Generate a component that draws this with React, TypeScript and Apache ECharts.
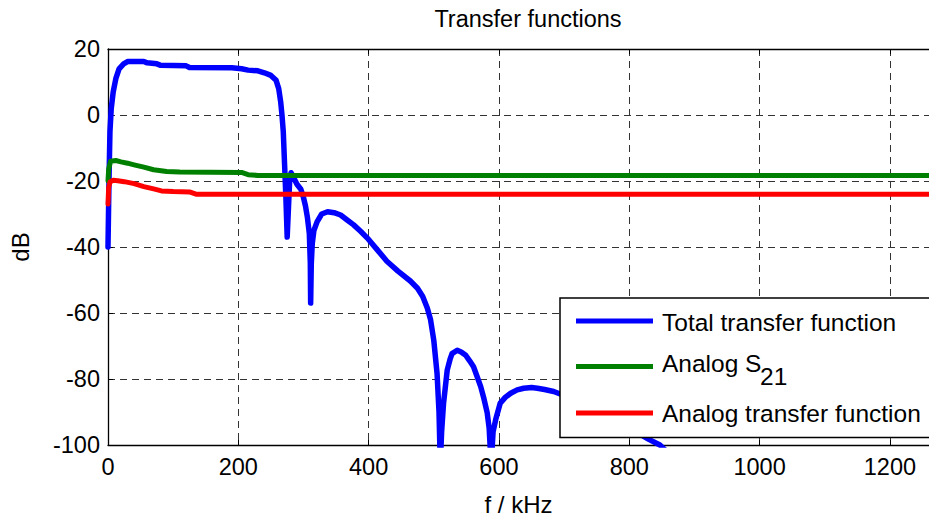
import React, { useEffect, useRef } from "react";
import * as echarts from "echarts";

// ---- data (f in kHz, level in dB) ----
const totalTransfer: [number, number][] = [
  [0, -40], [1.5, -20], [3, -5], [5, 2], [8, 7], [12, 11], [17, 14], [24, 15.5], [30, 16.2],
  [55, 16.2], [60, 15.8], [75, 15.5], [80, 15.1], [120, 14.9], [125, 14.4], [190, 14.3],
  [205, 14], [215, 13.6], [230, 13.4], [240, 12.8], [250, 12], [258, 10.5], [262, 8], [265, 4],
  [267, 0], [269, -5], [271, -15], [273, -25], [275, -37], [277, -28], [279, -19], [281, -17.5],
  [285, -19], [290, -21], [296, -22.5], [300, -25], [303, -27.5], [306, -31], [309, -36],
  [310.5, -45], [311, -57], [312, -45], [313.5, -39], [316, -35], [321, -32.3], [328, -30],
  [337, -29.3], [347, -29.6], [357, -30.3], [367, -31.8], [377, -33.3], [388, -35.3],
  [398, -37.3], [413, -40.8], [428, -44.3], [445, -47.3], [464, -50.3], [475, -52.5],
  [483, -55], [490, -58.5], [495, -62], [500, -68.3], [505, -78.3], [508, -90], [510, -106],
  [512, -96], [515, -87.3], [520.6, -77.3], [525, -74], [528, -72.3], [536, -71.3],
  [542, -71.8], [549, -72.8], [555, -74.5], [561, -76.3], [566, -79], [572, -82.3], [577, -86],
  [582, -90.3], [585, -95], [588, -106], [591, -96], [595, -92.3], [602, -87.3], [610, -85.5],
  [618, -84.3], [628, -83.3], [638, -82.8], [650, -82.6], [659, -82.8], [670, -83.2],
  [684, -83.8], [700, -85], [720, -86.5], [740, -88.5], [760, -90.5], [780, -92.5], [800, -95],
  [817, -96.8], [830, -98.3], [847, -100], [855, -101.5],
];

const analogS21: [number, number][] = [
  [0, -20], [1, -16.5], [4, -14], [12, -13.8], [20, -14.2], [30, -14.6], [40, -15.1],
  [55, -15.8], [70, -16.6], [90, -17.1], [110, -17.3], [205, -17.4], [215, -18.1],
  [230, -18.3], [1260, -18.3],
];

const analogTransfer: [number, number][] = [
  [0, -27], [1, -22], [3, -20.3], [8, -19.8], [15, -19.9], [25, -20.2], [40, -20.8],
  [55, -21.7], [70, -22.4], [82, -23], [100, -23.2], [125, -23.3], [135, -24], [1260, -24],
];

const seriesNames = ["Total transfer function", "Analog S", "Analog transfer function"];
const subscript = "21";
const seriesColors = ["#0000ff", "#008000", "#ff0000"];

const FONT = "'Liberation Sans', Arial, Helvetica, sans-serif";

export default function App() {
  const ref = useRef<HTMLDivElement>(null);

  useEffect(() => {
    if (!ref.current) return;
    const chart = echarts.init(ref.current, undefined, { renderer: "svg" });
    const grid = { left: 107, right: 0, top: 49, bottom: 72 };
    const gridLine = { show: true, lineStyle: { color: "#333", width: 1, type: [7, 5] as any } };
    const legendRows = [321, 366.5, 413];
    const LZ = 100;

    chart.setOption({
      animation: false,
      backgroundColor: "#ffffff",
      textStyle: { fontFamily: FONT },
      title: {
        text: "Transfer functions",
        left: 523,
        top: 2,
        textAlign: "center",
        textStyle: { fontFamily: FONT, fontSize: 23.5, fontWeight: "normal", color: "#000" },
      },
      grid: { ...grid, containLabel: false },
      xAxis: [
        {
          type: "value",
          min: 0,
          max: 1260,
          interval: 200,
          position: "bottom",
          name: "f / kHz",
          nameLocation: "middle",
          nameGap: 47,
          nameTextStyle: { fontFamily: FONT, fontSize: 24, color: "#000" },
          axisLine: { show: true, onZero: false, lineStyle: { color: "#000", width: 1.3 } },
          axisTick: { show: true, inside: true, length: 5, lineStyle: { color: "#000" } },
          axisLabel: {
            fontFamily: FONT,
            fontSize: 23.5,
            color: "#000",
            margin: 10,
            showMaxLabel: false,
            formatter: (v: number) => String(v),
          },
          splitLine: gridLine,
        },
        {
          type: "value",
          min: 0,
          max: 1260,
          interval: 200,
          position: "top",
          axisLine: { show: true, onZero: false, lineStyle: { color: "#000", width: 1.3 } },
          axisTick: { show: true, inside: true, length: 5, lineStyle: { color: "#000" } },
          axisLabel: { show: false },
          splitLine: { show: false },
        },
      ],
      yAxis: {
        type: "value",
        min: -100,
        max: 20,
        interval: 20,
        name: "dB",
        nameLocation: "middle",
        nameGap: 76,
        nameTextStyle: { fontFamily: FONT, fontSize: 24, color: "#000" },
        axisLine: { show: true, onZero: false, lineStyle: { color: "#000", width: 1.3 } },
        axisTick: { show: true, inside: true, length: 5, lineStyle: { color: "#000" } },
        axisLabel: { fontFamily: FONT, fontSize: 23.5, color: "#000", margin: 8 },
        splitLine: gridLine,
      },
      series: [
        {
          name: seriesNames[0],
          type: "line",
          data: totalTransfer,
          showSymbol: false,
          clip: true,
          lineStyle: { color: seriesColors[0], width: 5.5, cap: "round", join: "round" },
          itemStyle: { color: seriesColors[0] },
        },
        {
          name: seriesNames[1] + subscript,
          type: "line",
          data: analogS21,
          showSymbol: false,
          clip: true,
          lineStyle: { color: seriesColors[1], width: 5, cap: "round", join: "round" },
          itemStyle: { color: seriesColors[1] },
        },
        {
          name: seriesNames[2],
          type: "line",
          data: analogTransfer,
          showSymbol: false,
          clip: true,
          lineStyle: { color: seriesColors[2], width: 5, cap: "round", join: "round" },
          itemStyle: { color: seriesColors[2] },
        },
      ],
      graphic: [
        {
          type: "rect",
          z: LZ,
          shape: { x: 560, y: 298, width: 420, height: 139.5 },
          style: { fill: "#fff", stroke: "#000", lineWidth: 1.5 },
        },
        ...legendRows.map((y, i) => ({
          type: "line",
          z: LZ + 1,
          shape: { x1: 576, y1: y, x2: 653, y2: y },
          style: { stroke: seriesColors[i], lineWidth: 5 },
        })),
        {
          type: "text",
          z: LZ + 1,
          x: 662,
          y: legendRows[0] + 1.5,
          style: { text: seriesNames[0], font: `24.5px ${FONT}`, fill: "#000", verticalAlign: "middle" },
        },
        {
          type: "text",
          z: LZ + 1,
          x: 662,
          y: legendRows[1] - 3,
          style: { text: seriesNames[1], font: `24.5px ${FONT}`, fill: "#000", verticalAlign: "middle" },
        },
        {
          type: "text",
          z: LZ + 1,
          x: 760,
          y: legendRows[1] + 10,
          style: { text: subscript, font: `24.5px ${FONT}`, fill: "#000", verticalAlign: "middle" },
        },
        {
          type: "text",
          z: LZ + 1,
          x: 662,
          y: legendRows[2],
          style: { text: seriesNames[2], font: `24.5px ${FONT}`, fill: "#000", verticalAlign: "middle" },
        },
      ],
    });
    return () => chart.dispose();
  }, []);

  return (
    <div
      ref={ref}
      style={{ position: "fixed", left: 0, top: 0, width: 929, height: 521, background: "#fff" }}
    />
  );
}
